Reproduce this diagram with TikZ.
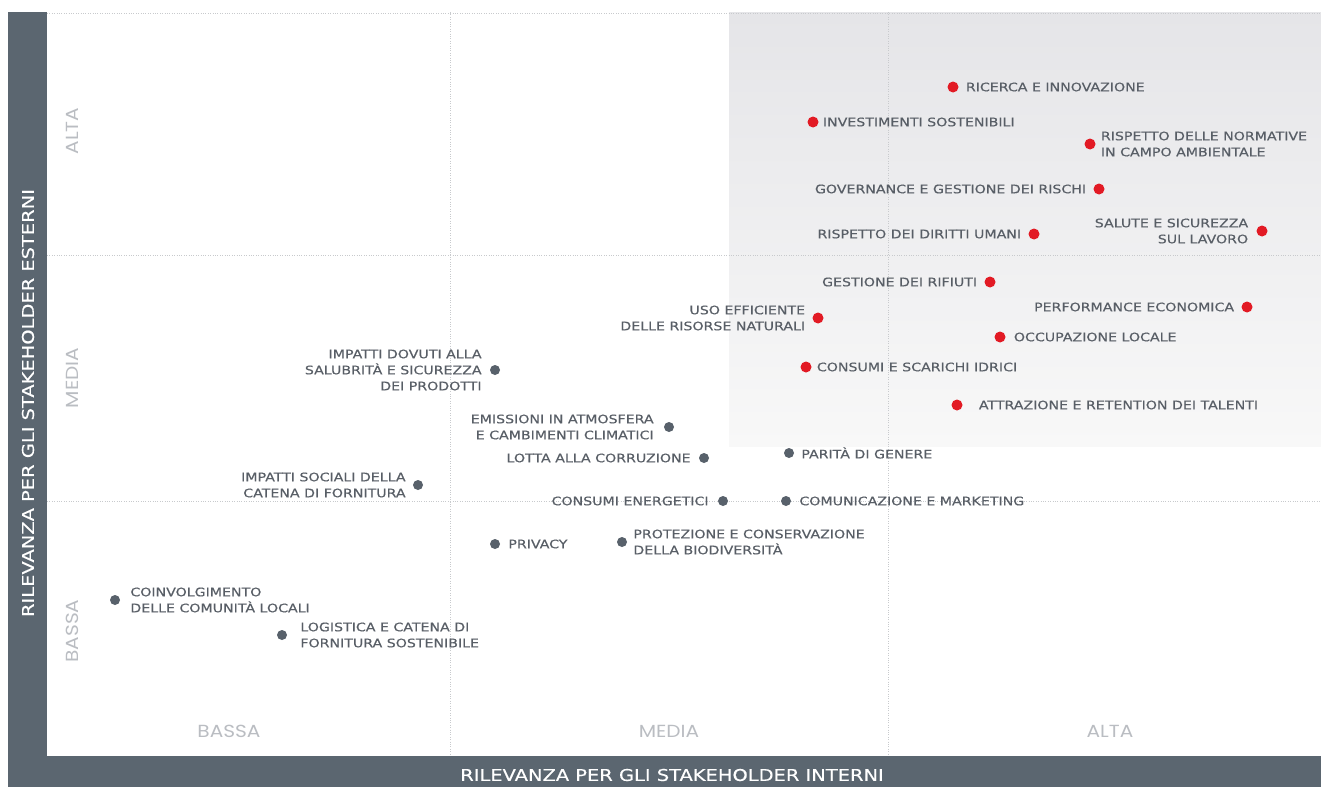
\documentclass[tikz,border=0pt]{standalone}
\usepackage{fontspec}
\setmainfont{DejaVu Sans}
\newfontfamily\lblfont[FakeStretch=1.2,FakeBold=0.35]{DejaVu Sans}
\newfontfamily\levelfont[FakeStretch=1.15]{Poppins}
\usetikzlibrary{positioning}
\definecolor{barcol}{RGB}{91,102,112}
\definecolor{dotred}{RGB}{226,26,36}
\definecolor{dotgrey}{RGB}{88,97,107}
\definecolor{txtcol}{RGB}{88,94,102}
\definecolor{levelcol}{RGB}{186,189,194}
\definecolor{gridcol}{RGB}{200,202,205}
\definecolor{shadetop}{RGB}{229,229,232}
\definecolor{shadebot}{RGB}{248,248,248}
\begin{document}
\begin{tikzpicture}[x=1pt,y=-1pt,
  hot/.style={circle,fill=dotred,inner sep=0pt,minimum size=11pt},
  cold/.style={circle,fill=dotgrey,inner sep=0pt,minimum size=10pt},
  lbl/.style={text=txtcol,font=\lblfont\fontsize{11.8}{16}\selectfont,inner sep=0pt},
  level/.style={text=levelcol,font=\levelfont\fontsize{17.5}{18}\selectfont},
  axis/.style={text=white,font=\lblfont\fontsize{16.2}{17}\selectfont},
  node distance=6pt]
\useasboundingbox (0,0) rectangle (1321,787);
\fill[white] (0,0) rectangle (1321,787);
% area di maggiore rilevanza
\shade[top color=shadetop,bottom color=shadebot] (729,12) rectangle (1321,446);
% griglia
\draw[gridcol,dotted] (47,13) -- (1321,13);
\draw[gridcol,dotted] (47,255) -- (1321,255);
\draw[gridcol,dotted] (47,501) -- (1321,501);
\draw[gridcol,dotted] (450,12) -- (450,756);
\draw[gridcol,dotted] (888,12) -- (888,756);
% assi
\fill[barcol] (8,12) rectangle (47,787);
\fill[barcol] (8,756) rectangle (1321,787);
\node[axis,rotate=90] (yaxis) at (28,403) {RILEVANZA PER GLI STAKEHOLDER ESTERNI};
\node[axis] (xaxis) at (672,775) {RILEVANZA PER GLI STAKEHOLDER INTERNI};
\node[level] (xlow) at (229,731) {BASSA};
\node[level] (xmid) at (669,731) {MEDIA};
\node[level] (xhigh) at (1110,731) {ALTA};
\node[level,rotate=90] (yhigh) at (72,131) {ALTA};
\node[level,rotate=90] (ymid) at (72,378) {MEDIA};
\node[level,rotate=90] (ylow) at (72,631) {BASSA};
% temi materiali
\node[hot] (ricerca) at (953,87) {};
\node[lbl,right=7pt of ricerca] {RICERCA E INNOVAZIONE};
\node[hot] (invest) at (813,122) {};
\node[lbl,right=4pt of invest] {INVESTIMENTI SOSTENIBILI};
\node[hot] (normative) at (1090,144) {};
\node[lbl,right=5pt of normative,align=left] {RISPETTO DELLE NORMATIVE\\IN CAMPO AMBIENTALE};
\node[hot] (governance) at (1099,189) {};
\node[lbl,left=7pt of governance] {GOVERNANCE E GESTIONE DEI RISCHI};
\node[hot] (diritti) at (1034,234) {};
\node[lbl,left=7pt of diritti] {RISPETTO DEI DIRITTI UMANI};
\node[hot] (salute) at (1262,231) {};
\node[lbl,left=8pt of salute,align=right] {SALUTE E SICUREZZA\\SUL LAVORO};
\node[hot] (rifiuti) at (990,282) {};
\node[lbl,left=7pt of rifiuti] {GESTIONE DEI RIFIUTI};
\node[hot] (risorse) at (818,318) {};
\node[lbl,left=7pt of risorse,align=right] {USO EFFICIENTE\\DELLE RISORSE NATURALI};
\node[hot] (performance) at (1247,307) {};
\node[lbl,left=7pt of performance] {PERFORMANCE ECONOMICA};
\node[hot] (occupazione) at (1000,337) {};
\node[lbl,right=8pt of occupazione] {OCCUPAZIONE LOCALE};
\node[hot] (idrici) at (806,367) {};
\node[lbl,right=5pt of idrici] {CONSUMI E SCARICHI IDRICI};
\node[hot] (talenti) at (957,405) {};
\node[lbl,right=16pt of talenti] {ATTRAZIONE E RETENTION DEI TALENTI};
\node[cold] (prodotti) at (495,370) {};
\node[lbl,left=8pt of prodotti,align=right] {IMPATTI DOVUTI ALLA\\SALUBRITÀ E SICUREZZA\\DEI PRODOTTI};
\node[cold] (emissioni) at (669,427) {};
\node[lbl,left=10pt of emissioni,align=right] {EMISSIONI IN ATMOSFERA\\E CAMBIMENTI CLIMATICI};
\node[cold] (corruzione) at (704,458) {};
\node[lbl,left=8pt of corruzione] {LOTTA ALLA CORRUZIONE};
\node[cold] (genere) at (789,453) {};
\node[lbl,right=7pt of genere] {PARITÀ DI GENERE};
\node[cold] (fornitura) at (418,485) {};
\node[lbl,left=7pt of fornitura,align=right] {IMPATTI SOCIALI DELLA\\CATENA DI FORNITURA};
\node[cold] (energetici) at (723,501) {};
\node[lbl,left=9pt of energetici] {CONSUMI ENERGETICI};
\node[cold] (comunicazione) at (786,501) {};
\node[lbl,right=8pt of comunicazione] {COMUNICAZIONE E MARKETING};
\node[cold] (privacy) at (495,544) {};
\node[lbl,right=8pt of privacy] {PRIVACY};
\node[cold] (biodiversita) at (622,542) {};
\node[lbl,right=6pt of biodiversita,align=left] {PROTEZIONE E CONSERVAZIONE\\DELLA BIODIVERSITÀ};
\node[cold] (comunita) at (115,600) {};
\node[lbl,right=10pt of comunita,align=left] {COINVOLGIMENTO\\DELLE COMUNITÀ LOCALI};
\node[cold] (logistica) at (282,635) {};
\node[lbl,right=13pt of logistica,align=left] {LOGISTICA E CATENA DI\\FORNITURA SOSTENIBILE};
\end{tikzpicture}
\end{document}
